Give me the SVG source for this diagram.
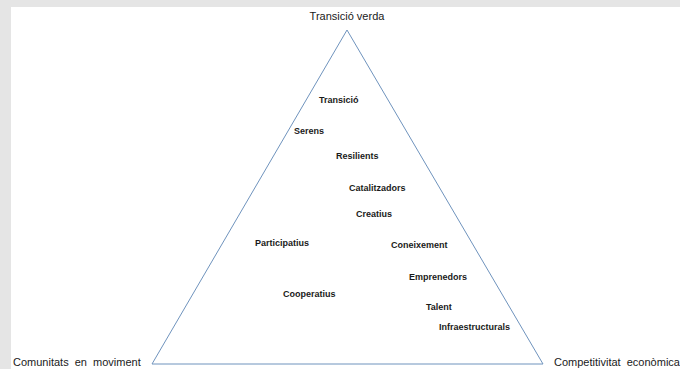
<svg xmlns="http://www.w3.org/2000/svg" width="680" height="369" viewBox="0 0 680 369">
<style>
.corner{font-family:"Liberation Sans",Arial,sans-serif;font-size:11px;fill:#1a1a1a}
.lbl{font-family:"Liberation Sans",Arial,sans-serif;font-size:9px;font-weight:bold;fill:#1a1a1a}
.edge{stroke:#6f93bd;stroke-width:1;fill:none}
</style>
<rect x="0" y="0" width="680" height="369" fill="#e5e5e5"/>
<rect x="11" y="7" width="669" height="362" fill="#ffffff"/>
<g id="connectors">
<line class="edge" x1="347" y1="30" x2="152" y2="364"/>
<line class="edge" x1="347" y1="30" x2="543" y2="364"/>
<line class="edge" x1="152" y1="364" x2="543" y2="364"/>
</g>
<g id="node-transicio-verda"><text class="corner" x="347" y="20" text-anchor="middle">Transició verda</text></g>
<g id="node-comunitats"><text class="corner" x="13" y="366" xml:space="preserve">Comunitats  en  moviment</text></g>
<g id="node-competitivitat"><text class="corner" x="554" y="366" xml:space="preserve">Competitivitat  econòmica</text></g>
<g id="node-transicio"><text class="lbl" x="319" y="103">Transició</text></g>
<g id="node-serens"><text class="lbl" x="294" y="134">Serens</text></g>
<g id="node-resilients"><text class="lbl" x="336" y="159">Resilients</text></g>
<g id="node-catalitzadors"><text class="lbl" x="349" y="191">Catalitzadors</text></g>
<g id="node-creatius"><text class="lbl" x="356" y="217">Creatius</text></g>
<g id="node-participatius"><text class="lbl" x="255" y="246">Participatius</text></g>
<g id="node-coneixement"><text class="lbl" x="391" y="248">Coneixement</text></g>
<g id="node-emprenedors"><text class="lbl" x="409" y="280">Emprenedors</text></g>
<g id="node-cooperatius"><text class="lbl" x="283" y="297">Cooperatius</text></g>
<g id="node-talent"><text class="lbl" x="426" y="310">Talent</text></g>
<g id="node-infraestructurals"><text class="lbl" x="439" y="330">Infraestructurals</text></g>
</svg>
